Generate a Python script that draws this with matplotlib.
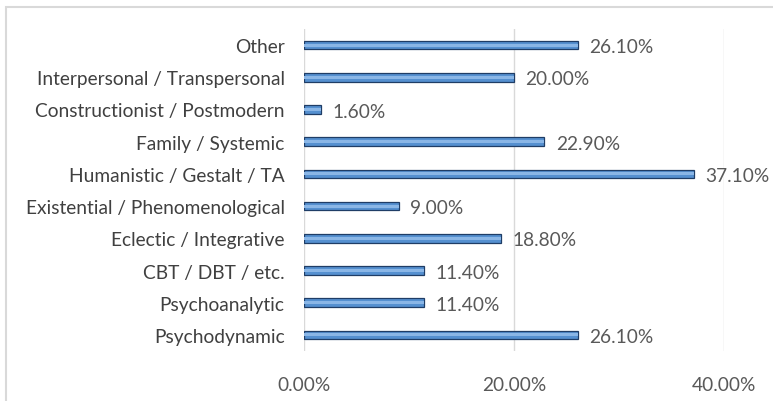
import matplotlib.pyplot as plt
from matplotlib.patches import Rectangle

categories = ['Psychodynamic', 'Psychoanalytic', 'CBT / DBT / etc.', 'Eclectic / Integrative',
              'Existential / Phenomenological', 'Humanistic / Gestalt / TA', 'Family / Systemic',
              'Constructionist / Postmodern', 'Interpersonal / Transpersonal', 'Other']
values = [26.1, 11.4, 11.4, 18.8, 9.0, 37.1, 22.9, 1.6, 20.0, 26.1]
xticks = [0, 20, 40]

plt.rcParams['font.family'] = ['Lato', 'DejaVu Sans']
grey = '#595959'
fs = 13.8

fig = plt.figure(figsize=(7.73, 4.02), dpi=100)
# outer chart frame
fig.patches.append(Rectangle((6 / 773, -0.1), 1.1, (402 - 8) / 402 + 0.1, transform=fig.transFigure,
                             fill=False, edgecolor='#d9d9d9', linewidth=1.5))
ax = fig.add_axes([304 / 773, 1 - 352 / 402, 420 / 773, 322 / 402])

y = range(len(categories))
ax.barh(y, values, height=0.27, color='#5590d0', edgecolor='#1f3d66', linewidth=0.9, zorder=3)
ax.barh(y, values, height=0.09, left=0, color='#8ab6e6', linewidth=0, zorder=4)

for i, v in enumerate(values):
    ax.text(v + 1.1, i - 0.05, f'{v:.2f}%', va='center', ha='left', fontsize=fs, color=grey)

ax.set_xlim(0, 40)
ax.set_ylim(-0.5, len(categories) - 0.5)
ax.set_xticks(xticks)
ax.set_xticklabels([f'{t:.2f}%' for t in xticks], fontsize=fs, color=grey)
ax.set_yticks(list(y))
ax.set_yticklabels(categories, fontsize=fs, color='#404040')
ax.tick_params(length=0, pad=14)
ax.tick_params(axis='x', pad=18)
ax.grid(axis='x', color='#d9d9d9', linewidth=1, zorder=0)
for s in ax.spines.values():
    s.set_visible(False)

plt.savefig('out.png', dpi=100)
